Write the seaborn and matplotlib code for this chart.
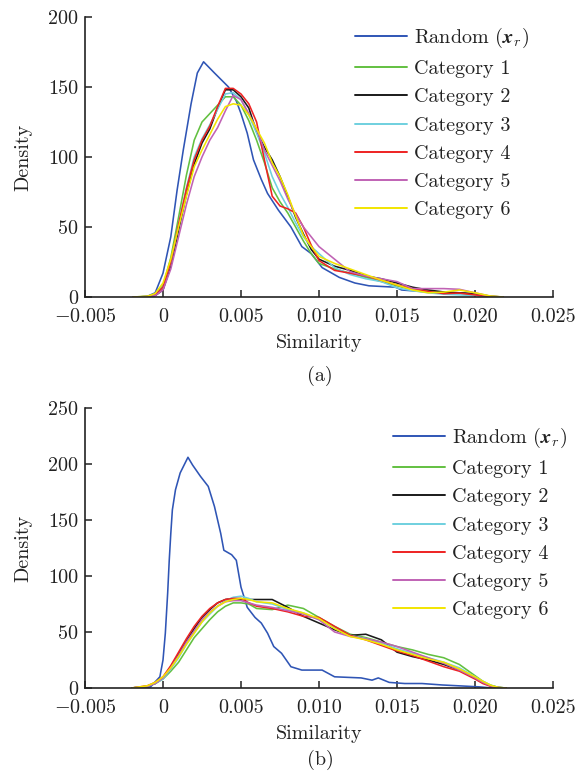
import matplotlib
matplotlib.use("Agg")
import matplotlib.pyplot as plt
import seaborn as sns
import pandas as pd
from matplotlib.ticker import FixedLocator, FixedFormatter

sns.set_theme(style="ticks")
plt.rcParams["font.family"] = ["cmr10", "DejaVu Serif"]
plt.rcParams["mathtext.fontset"] = "cm"
plt.rcParams["axes.formatter.use_mathtext"] = True

FS = 14.5
INK = "#222222"

series_names = ["Random ($\\boldsymbol{x}_r$)", "Category 1", "Category 2",
                "Category 3", "Category 4", "Category 5", "Category 6"]
series_colors = ["#2f55b5", "#62c040", "#1a1a1a", "#6fd0df",
                 "#ee2222", "#c062b4", "#f2e500"]

x_ticks = [-0.005, 0.0, 0.005, 0.010, 0.015, 0.020, 0.025]
x_tick_labels = ["$-$0.005", "0", "0.005", "0.010", "0.015", "0.020", "0.025"]
ya_ticks = [0, 50, 100, 150, 200]
yb_ticks = [0, 50, 100, 150, 200, 250]

# ---- panel (a) ----
a_random_x = [-0.0016, -0.0010, -0.0005, 0.0000, 0.0005, 0.0009, 0.0013, 0.0018,
              0.0022, 0.0026, 0.0033, 0.0042, 0.0047, 0.0050, 0.0054, 0.0058,
              0.0063, 0.0067, 0.0074, 0.0082, 0.0089, 0.0095, 0.0102, 0.0113,
              0.0123, 0.0132, 0.0149, 0.0153, 0.0170, 0.0192, 0.0200, 0.0211]
a_random_y = [0, 0.5, 3, 17, 43, 76, 105, 138,
              160, 168, 160, 150, 140, 131, 117, 98,
              84, 74, 62, 50, 36, 31, 21, 14,
              10, 8, 7, 5, 3.6, 2.8, 1.4, 0.3]

a_cat_x = [-0.0019, -0.0010, -0.0005, 0.0000, 0.0005, 0.0010, 0.0015, 0.0020,
           0.0025, 0.0030, 0.0035, 0.0040, 0.0045, 0.0050, 0.0055, 0.0060,
           0.0065, 0.0070, 0.0075, 0.0080, 0.0085, 0.0090, 0.0095, 0.0100,
           0.0110, 0.0120, 0.0130, 0.0140, 0.0150, 0.0160, 0.0170, 0.0180,
           0.0190, 0.0200, 0.0210, 0.0218]
a_cat1 = [0, 0.5, 2, 8, 28, 57, 87, 112, 125, 131, 137, 143, 143, 137, 126, 112,
          96, 78, 68, 60, 50, 40, 31, 24, 20, 17, 14, 11, 8, 5, 4, 3, 2.5, 1.5, 0.4, 0]
a_cat2 = [0, 0, 1, 5, 22, 48, 73, 95, 110, 120, 135, 148, 148, 143, 135, 118,
          107, 98, 86, 72, 57, 45, 34, 27, 22, 19, 15, 13, 10, 7, 5, 3.6, 3, 2.5, 0.5, 0]
a_cat3 = [0, 0.3, 1.5, 7, 25, 52, 78, 100, 113, 123, 134, 145, 146, 141, 130, 117,
          103, 86, 74, 64, 53, 43, 36, 31, 21, 16, 13, 11, 6.5, 4.5, 3, 2, 1.5, 1, 0.3, 0]
a_cat4 = [0, 0.3, 1.5, 7, 25, 52, 77, 98, 112, 122, 136, 149, 149, 145, 138, 125,
          98, 72, 65, 63, 60, 50, 37, 26, 19, 17, 15, 12, 8.6, 6, 4, 2.4, 2.8, 1.5, 0.3, 0]
a_cat5 = [0, 0.2, 1, 5, 20, 43, 66, 86, 100, 112, 121, 133, 144, 141, 131, 120,
          105, 94, 83, 70, 59, 50, 43, 36, 27, 18, 15, 13, 11, 6, 6, 6, 5.5, 3, 0.5, 0]
a_cat6 = [0, 0.5, 2.5, 10, 27, 50, 72, 93, 105, 116, 127, 136, 138, 137, 130, 120,
          110, 96, 86, 73, 58, 44, 36, 29, 24, 20, 16, 12, 8.6, 5, 3, 3.5, 5, 3, 0.7, 0]

# ---- panel (b) ----
b_random_x = [-0.0012, -0.0008, -0.0002, 0.0000, 0.00015, 0.0003, 0.0004, 0.0005,
              0.0006, 0.0008, 0.0011, 0.0016, 0.0019, 0.0024, 0.0029, 0.0033,
              0.0037, 0.0039, 0.0044, 0.0047, 0.0050, 0.0054, 0.0059, 0.0063,
              0.0067, 0.0071, 0.0076, 0.0082, 0.0089, 0.0102, 0.0110, 0.0127,
              0.0134, 0.0138, 0.0145, 0.0155, 0.0166, 0.0179, 0.0203, 0.0211]
b_random_y = [0, 1, 10, 25, 49, 85, 114, 138,
              159, 177, 192, 206, 199, 189, 180, 162,
              138, 123, 119, 114, 90, 72, 63, 58,
              49, 37, 31, 19, 16, 16, 10, 9,
              7, 9, 5, 4, 4, 2.7, 1, 0]

b_cat_x = [-0.0020, -0.0010, -0.0005, 0.0000, 0.0005, 0.0010, 0.0015, 0.0020,
           0.0025, 0.0030, 0.0035, 0.0040, 0.0045, 0.0050, 0.0055, 0.0060,
           0.0070, 0.0080, 0.0090, 0.0100, 0.0110, 0.0120, 0.0130, 0.0140,
           0.0150, 0.0160, 0.0170, 0.0180, 0.0190, 0.0200, 0.0205, 0.0210,
           0.0215, 0.0220]
b_cat1 = [0, 1.5, 4, 8, 15, 23, 34, 45, 53, 61, 68, 73, 76, 76, 75, 71,
          70, 74, 71, 63, 55, 48, 45, 41, 37, 34, 30, 27, 21, 11, 6, 2.5, 0.5, 0]
b_cat2 = [0, 1.5, 4, 9, 19, 30, 42, 53, 63, 70, 76, 79, 80, 79, 79, 79,
          79, 72, 64, 58, 52, 47, 48, 43, 32, 28, 25, 21, 16, 9, 5, 2, 0.5, 0]
b_cat3 = [0, 1.5, 4, 8, 17, 27, 39, 49, 59, 66, 73, 78, 81, 82, 80, 77,
          75, 70, 67, 61, 54, 47, 44, 40, 35, 31, 27, 23, 18, 10, 6, 2.5, 0.5, 0]
b_cat4 = [0, 2, 5, 10, 20, 32, 44, 55, 64, 71, 76, 79, 80, 80, 76, 73,
          71, 68, 64, 63, 55, 47, 43, 38, 33, 29, 24, 19, 15, 8, 4, 1.5, 0.3, 0]
b_cat5 = [0, 1.5, 4, 9, 18, 29, 41, 51, 61, 68, 73, 77, 78, 78, 76, 74,
          72, 69, 66, 61, 50, 46, 44, 41, 37, 32, 27, 22, 16, 9, 5, 2, 0.3, 0]
b_cat6 = [0, 2, 5, 10, 18, 28, 39, 49, 59, 67, 73, 77, 79, 80, 79, 77,
          76, 71, 67, 62, 53, 46, 43, 39, 34, 30, 26, 23, 17, 10, 6, 2.5, 0.5, 0]


def long_frame(random_x, random_y, cat_x, cat_values):
    frames = [pd.DataFrame({"x": random_x, "y": random_y, "series": series_names[0]})]
    for name, vals in zip(series_names[1:], cat_values):
        frames.append(pd.DataFrame({"x": cat_x, "y": vals, "series": name}))
    return pd.concat(frames, ignore_index=True)


df_a = long_frame(a_random_x, a_random_y, a_cat_x,
                  [a_cat1, a_cat2, a_cat3, a_cat4, a_cat5, a_cat6])
df_b = long_frame(b_random_x, b_random_y, b_cat_x,
                  [b_cat1, b_cat2, b_cat3, b_cat4, b_cat5, b_cat6])

palette = dict(zip(series_names, series_colors))
W, H = 579, 772
fig = plt.figure(figsize=(W / 100, H / 100), dpi=100)


def px_axes(left, top, right, bottom):
    return fig.add_axes([left / W, 1 - bottom / H, (right - left) / W, (bottom - top) / H])


ax_a = px_axes(85, 17, 553, 297)
ax_b = px_axes(85, 408, 553, 688)

for ax, df, yticks, leg_xy, cap, cap_y in [
        (ax_a, df_a, ya_ticks, (355, 26), "(a)", 376),
        (ax_b, df_b, yb_ticks, (393, 426), "(b)", 760)]:
    sns.lineplot(data=df, x="x", y="y", hue="series", hue_order=series_names,
                 palette=palette, estimator=None, sort=False, linewidth=1.15,
                 ax=ax, legend=False)
    ax.set_xlim(-0.005, 0.025)
    ax.set_ylim(yticks[0], yticks[-1])
    ax.xaxis.set_major_locator(FixedLocator(x_ticks))
    ax.xaxis.set_major_formatter(FixedFormatter(x_tick_labels))
    ax.yaxis.set_major_locator(FixedLocator(yticks))
    ax.yaxis.set_major_formatter(FixedFormatter([str(t) for t in yticks]))
    ax.tick_params(direction="in", length=5, width=1.1, labelsize=FS,
                   colors=INK, pad=5)
    ax.tick_params(axis="x", pad=8)
    for side in ("top", "right"):
        ax.spines[side].set_visible(False)
    for side in ("left", "bottom"):
        ax.spines[side].set_linewidth(1.2)
        ax.spines[side].set_color(INK)
    ax.set_xlabel("Similarity", fontsize=FS, color=INK, labelpad=5.5)
    ax.set_ylabel("Density", fontsize=FS, color=INK, labelpad=11)
    ax.set_facecolor("white")

    handles = [plt.Line2D([], [], color=c, lw=1.4) for c in series_colors]
    ax.legend(handles, series_names, loc="upper left", frameon=False,
              bbox_to_anchor=(leg_xy[0] / W, 1 - leg_xy[1] / H),
              bbox_transform=fig.transFigure, borderpad=0, borderaxespad=0,
              handlelength=2.6, handletextpad=0.35, labelspacing=0.5,
              fontsize=FS, labelcolor=INK)
    fig.text(320 / W, 1 - cap_y / H, cap, ha="center", va="center",
             fontsize=FS, color=INK)

fig.savefig("out.png", dpi=100, facecolor="white")
